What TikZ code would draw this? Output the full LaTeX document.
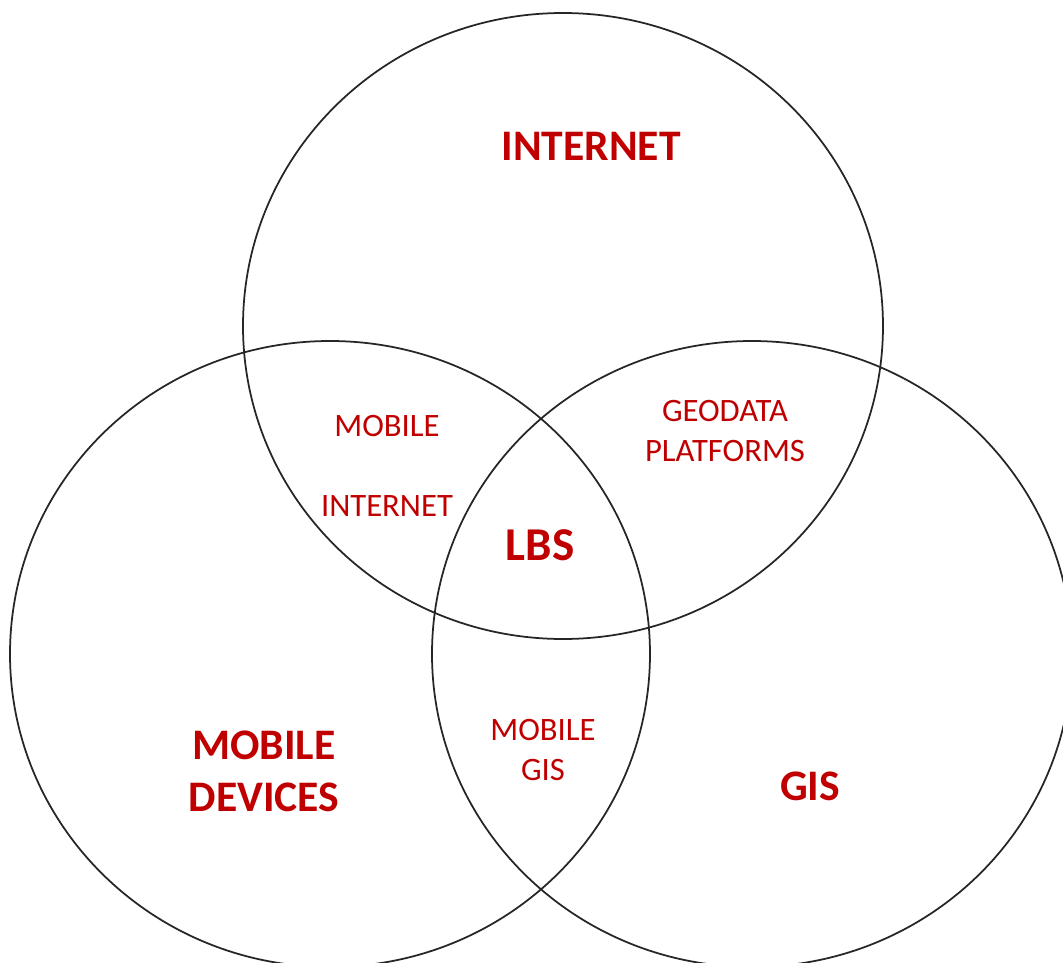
\documentclass[tikz,border=0pt]{standalone}
\usepackage{fontspec}
\setmainfont{Carlito}
\usepackage{xcolor}
\usetikzlibrary{positioning}
\definecolor{lbsred}{RGB}{192,0,0}
\tikzset{
    ring/.style={draw=black!85, line width=0.5pt},
    setlabel/.style={text=lbsred, font=\bfseries\fontsize{12.4}{14.8}\selectfont, align=center, inner sep=0pt},
    overlap/.style={text=lbsred, font=\fontsize{9.3}{11.5}\selectfont, align=center, inner sep=0pt},
}

\begin{document}
\begin{tikzpicture}[x=0.1mm, y=-0.1mm]
    \path[use as bounding box, clip] (0,0) rectangle (1063,963);

    % Circles
    \draw[ring] (563,326) ellipse [x radius=32mm, y radius=31.3mm];
    \draw[ring] (330,654) ellipse [x radius=32mm, y radius=31.3mm];
    \draw[ring] (752,654) ellipse [x radius=32mm, y radius=31.3mm];

    % Sets
    \node[setlabel] (internet) at (591,146) {INTERNET};
    \node[setlabel] (devices) at (264,771) {MOBILE\\DEVICES};
    \node[setlabel] (gis) at (810,786) {GIS};

    % Overlaps
    \node[overlap] (mobint) at (387,426) {MOBILE};
    \node[overlap, below=8mm of mobint.center, anchor=center] (mobint2) {INTERNET};
    \node[overlap] (geodata) at (725,431) {GEODATA\\PLATFORMS};
    \node[overlap] (mobgis) at (543,750) {MOBILE\\GIS};
    \node[setlabel, font=\bfseries\fontsize{13.4}{16}\selectfont] (lbs) at (540,545) {LBS};
\end{tikzpicture}
\end{document}
